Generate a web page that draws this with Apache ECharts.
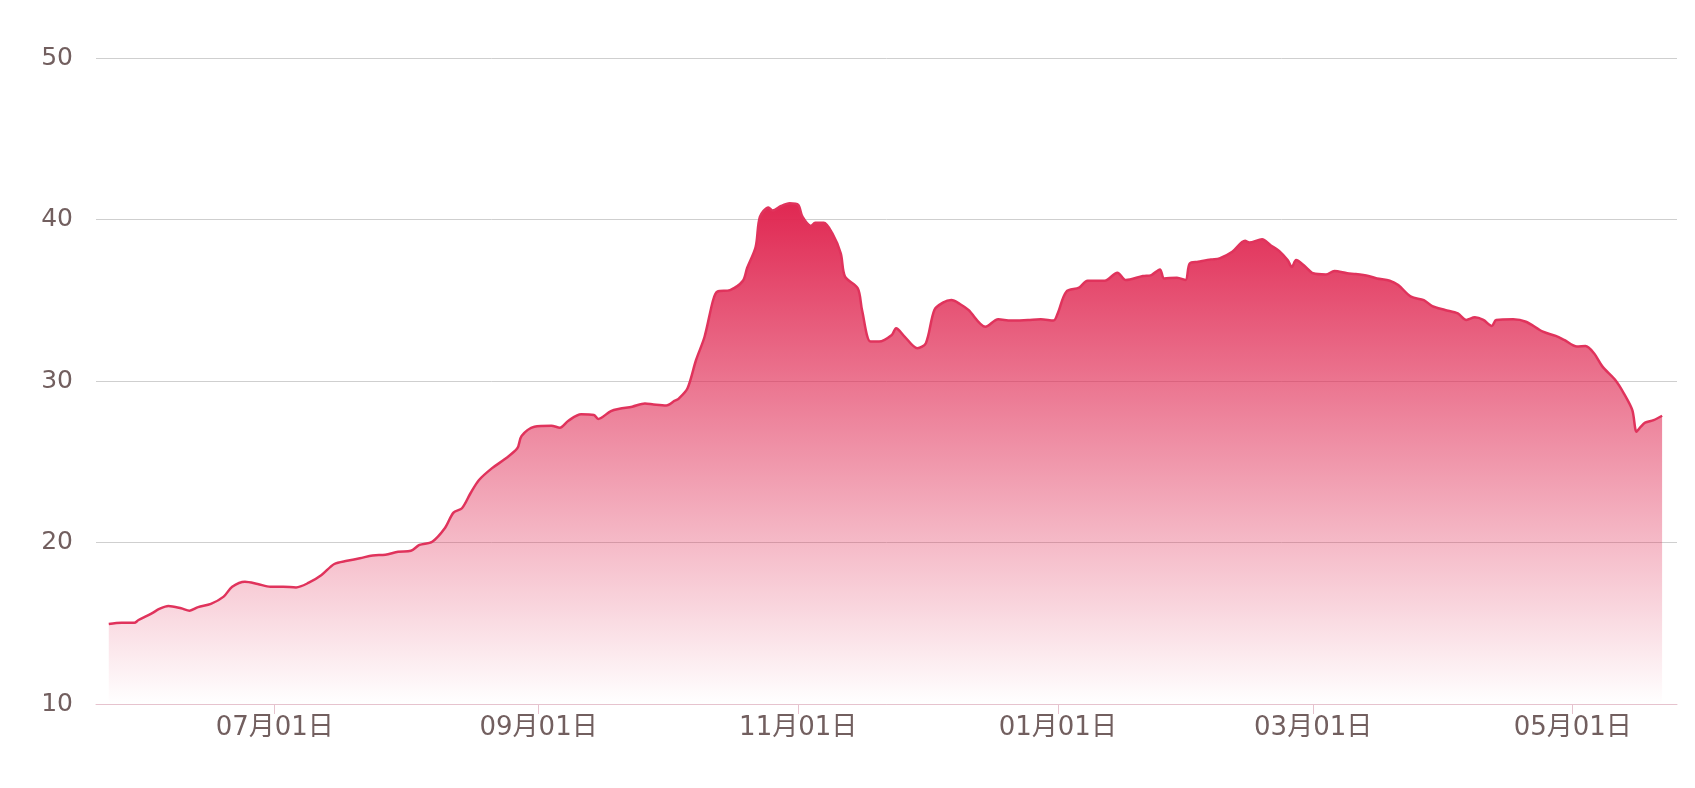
<!DOCTYPE html>
<html>
<head>
<meta charset="utf-8">
<script src="https://cdn.jsdelivr.net/npm/echarts@6/dist/echarts.min.js"></script>
<style>
html,body{margin:0;padding:0;background:#fff;}
#chart{width:1695px;height:788px;}
</style>
</head>
<body>
<div id="chart"></div>
<script>
const dates = [
'2023-05-23','2023-05-26','2023-05-29','2023-05-30','2023-06-02','2023-06-04','2023-06-06','2023-06-09','2023-06-11','2023-06-13',
'2023-06-16','2023-06-19','2023-06-21','2023-06-24','2023-06-27','2023-06-30','2023-07-03','2023-07-06','2023-07-09','2023-07-12',
'2023-07-15','2023-07-18','2023-07-21','2023-07-24','2023-07-27','2023-07-30','2023-08-02','2023-08-04','2023-08-07','2023-08-10',
'2023-08-12','2023-08-14','2023-08-16','2023-08-18','2023-08-21','2023-08-24','2023-08-27','2023-08-28','2023-08-31','2023-09-04',
'2023-09-06','2023-09-08','2023-09-11','2023-09-14','2023-09-15','2023-09-18','2023-09-20','2023-09-23','2023-09-26','2023-09-28',
'2023-10-01','2023-10-03','2023-10-04','2023-10-06','2023-10-08','2023-10-10','2023-10-12','2023-10-13','2023-10-16','2023-10-19',
'2023-10-20','2023-10-22','2023-10-23','2023-10-25','2023-10-26','2023-10-28','2023-10-30','2023-11-01','2023-11-02','2023-11-04',
'2023-11-05','2023-11-07','2023-11-09','2023-11-11','2023-11-12','2023-11-15','2023-11-16','2023-11-18','2023-11-20','2023-11-23',
'2023-11-24','2023-11-26','2023-11-29','2023-12-01','2023-12-03','2023-12-05','2023-12-07','2023-12-09','2023-12-11','2023-12-15',
'2023-12-18','2023-12-21','2023-12-25','2023-12-28','2023-12-31','2024-01-01','2024-01-03','2024-01-06','2024-01-08','2024-01-12',
'2024-01-15','2024-01-17','2024-01-21','2024-01-23','2024-01-25','2024-01-26','2024-01-29','2024-01-31','2024-02-01','2024-02-03',
'2024-02-06','2024-02-08','2024-02-11','2024-02-14','2024-02-15','2024-02-18','2024-02-20','2024-02-22','2024-02-24','2024-02-25',
'2024-02-26','2024-02-28','2024-03-01','2024-03-04','2024-03-06','2024-03-09','2024-03-11','2024-03-14','2024-03-16','2024-03-19',
'2024-03-21','2024-03-24','2024-03-27','2024-03-29','2024-04-01','2024-04-04','2024-04-06','2024-04-08','2024-04-10','2024-04-12',
'2024-04-13','2024-04-17','2024-04-20','2024-04-24','2024-04-27','2024-04-29','2024-05-02','2024-05-04','2024-05-06','2024-05-08',
'2024-05-11','2024-05-13','2024-05-15','2024-05-16','2024-05-17','2024-05-18','2024-05-20','2024-05-22'
];
const values = [
14.95,15.03,15.03,15.2,15.6,15.9,16.07,15.93,15.78,16.0,
16.2,16.65,17.26,17.57,17.43,17.26,17.26,17.22,17.51,17.99,
18.67,18.87,19.02,19.2,19.24,19.43,19.49,19.85,20.05,20.9,
21.85,22.12,23.05,23.87,24.59,25.15,25.83,26.6,27.17,27.23,
27.11,27.54,27.94,27.9,27.65,28.14,28.28,28.41,28.61,28.55,
28.49,28.78,28.93,29.55,31.3,32.74,35.0,35.53,35.63,36.2,
37.0,38.3,40.16,40.75,40.55,40.84,41.0,40.9,40.17,39.6,
39.8,39.8,39.15,37.9,36.46,35.74,34.4,32.44,32.44,32.85,
33.27,32.75,32.03,32.34,34.4,34.85,35.01,34.77,34.4,33.36,
33.82,33.74,33.78,33.82,33.74,34.2,35.53,35.78,36.21,36.21,
36.71,36.25,36.5,36.56,36.91,36.35,36.4,36.25,37.28,37.38,
37.53,37.59,38.0,38.68,38.58,38.77,38.41,38.06,37.49,37.06,
37.49,37.12,36.67,36.6,36.81,36.67,36.62,36.5,36.35,36.21,
35.94,35.22,35.01,34.64,34.4,34.18,33.78,33.94,33.78,33.41,
33.78,33.82,33.67,33.05,32.79,32.54,32.13,32.17,31.72,30.89,
30.06,29.24,28.2,26.86,27.17,27.42,27.58,27.85
];
const tickDates = ['2023-07-01','2023-09-01','2023-11-01','2024-01-01','2024-03-01','2024-05-01'];
const axisRange = ['2023-05-20','2024-05-25'];

function toTime(s){ const p = s.split('-').map(Number); return new Date(p[0], p[1]-1, p[2]).getTime(); }
function pad(n){ return (n<10?'0':'')+n; }

const seriesData = dates.map((d,i)=>[toTime(d), values[i]]);
const tickValues = tickDates.map(toTime);

const chart = echarts.init(document.getElementById('chart'), null, {renderer:'canvas'});
chart.setOption({
  animation:false,
  backgroundColor:'#fff',
  grid:{left:96,right:18,top:58,bottom:84,containLabel:false},
  xAxis:{
    type:'value',
    scale:true,
    min: toTime(axisRange[0]),
    max: toTime(axisRange[1]) + 12*3600*1000,
    axisLine:{show:true,lineStyle:{color:'#e6c3ce',width:1}},
    axisTick:{show:true,customValues:tickValues,length:10,lineStyle:{color:'#e6c3ce'}},
    splitLine:{show:false},
    axisLabel:{
      customValues:tickValues,
      margin:11,
      color:'#725f5f',
      fontSize:26,
      fontFamily:'"DejaVu Sans","Noto Sans CJK SC",sans-serif',
      formatter:function(v){ const d=new Date(v); return pad(d.getMonth()+1)+'月'+pad(d.getDate())+'日'; }
    }
  },
  yAxis:{
    type:'value',
    min:10,max:50,interval:10,
    axisLine:{show:false},
    axisTick:{show:false},
    splitLine:{show:true,lineStyle:{color:'#cfcfcf',width:1}},
    axisLabel:{margin:23,color:'#725f5f',fontSize:25,fontFamily:'"DejaVu Sans",sans-serif'}
  },
  series:[{
    type:'line',
    data:seriesData,
    showSymbol:false,
    smooth:0.3,
    lineStyle:{color:'#e0335c',width:2.5},
    itemStyle:{color:'#e0335c'},
    areaStyle:{
      opacity:1,
      color:new echarts.graphic.LinearGradient(0,0,0,1,[
        {offset:0,color:'rgba(224,40,82,1)'},
        {offset:1,color:'rgba(224,40,82,0)'}
      ])
    }
  }]
});
</script>
</body>
</html>
